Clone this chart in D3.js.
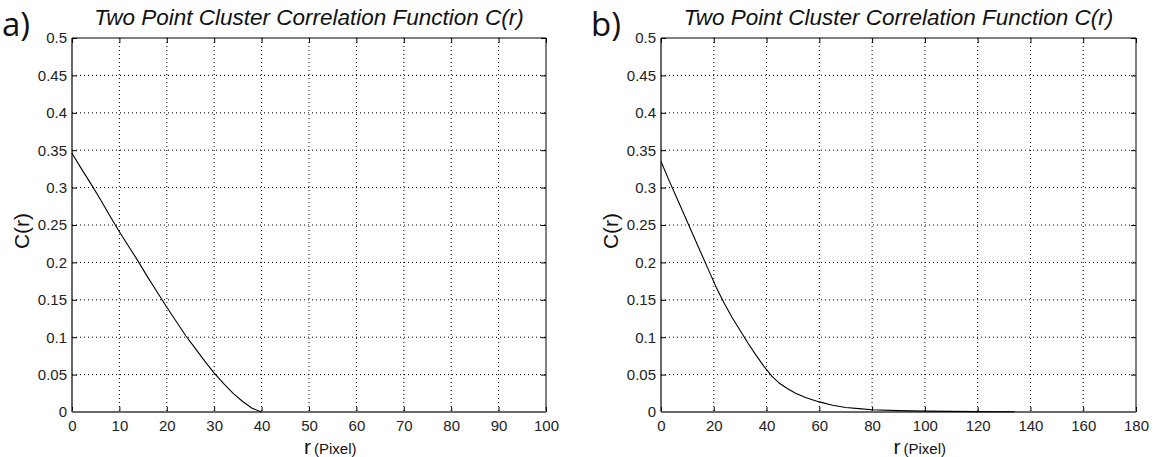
<!DOCTYPE html>
<html>
<head>
<meta charset="utf-8">
<script src="https://cdn.jsdelivr.net/npm/d3@7/dist/d3.min.js"></script>
<style>
  html, body { margin: 0; padding: 0; background: #fff; }
  svg { display: block; }
  text { font-family: "Liberation Sans", Arial, sans-serif; }
</style>
</head>
<body>
<svg id="chart" width="1155" height="457"></svg>
<script>
// Panel a) correlation values
const rA = [0, 2, 4, 6, 8, 10, 12, 14, 16, 18, 20, 22, 24, 26, 28, 30, 32, 34, 36, 38, 40];
const cA = [0.346, 0.325, 0.305, 0.284, 0.262, 0.241, 0.221, 0.201, 0.180, 0.160, 0.140,
            0.121, 0.102, 0.085, 0.068, 0.052, 0.038, 0.025, 0.014, 0.005, 0.0];

// Panel b) correlation values
const rB = [0, 3, 6, 9, 12, 15, 18, 21, 24, 27, 30, 33, 36, 39, 42, 45, 48, 51, 55, 60, 65, 70, 75, 80, 90, 100, 110, 120, 134];
const cB = [0.335, 0.310, 0.286, 0.262, 0.238, 0.214, 0.190, 0.166, 0.145, 0.126, 0.109, 0.092,
            0.076, 0.061, 0.048, 0.038, 0.031, 0.025, 0.019, 0.0135, 0.009, 0.006, 0.0045, 0.003,
            0.0018, 0.0012, 0.0008, 0.0005, 0.0003];

// Axis ticks
const xTicksA = [0, 10, 20, 30, 40, 50, 60, 70, 80, 90, 100];
const xTicksB = [0, 20, 40, 60, 80, 100, 120, 140, 160, 180];
const yTicks = [0, 0.05, 0.1, 0.15, 0.2, 0.25, 0.3, 0.35, 0.4, 0.45, 0.5];
const yTickLabels = ["0", "0.05", "0.1", "0.15", "0.2", "0.25", "0.3", "0.35", "0.4", "0.45", "0.5"];

const titleText = "Two Point Cluster Correlation Function C(r)";

const svg = d3.select("#chart");

function panel(opts) {
  const { left, right, top, bottom, xMax, xTicks, r, c, tag } = opts;
  const x = d3.scaleLinear().domain([0, xMax]).range([left, right]);
  const y = d3.scaleLinear().domain([0, 0.5]).range([bottom, top]);
  const g = svg.append("g");

  // dotted grid
  g.append("g").selectAll("line").data(xTicks.slice(1, -1)).join("line")
    .attr("x1", d => x(d)).attr("x2", d => x(d))
    .attr("y1", top).attr("y2", bottom)
    .attr("stroke", "#000").attr("stroke-width", 1).attr("stroke-dasharray", "1,3");
  g.append("g").selectAll("line").data(yTicks.slice(1, -1)).join("line")
    .attr("x1", left).attr("x2", right)
    .attr("y1", d => y(d)).attr("y2", d => y(d))
    .attr("stroke", "#000").attr("stroke-width", 1).attr("stroke-dasharray", "1,3");

  // axes with inward ticks and labels
  const xAxis = d3.axisBottom(x).tickValues(xTicks).tickSize(-5).tickPadding(8).tickFormat(d3.format("d"));
  const yAxis = d3.axisLeft(y).tickValues(yTicks).tickSize(-5).tickPadding(5)
    .tickFormat((d, i) => yTickLabels[i]);
  const xAxisTop = d3.axisTop(x).tickValues(xTicks).tickSize(-5).tickFormat("");
  const yAxisRight = d3.axisRight(y).tickValues(yTicks).tickSize(-5).tickFormat("");

  const gx = g.append("g").attr("transform", `translate(0,${bottom})`).call(xAxis);
  const gy = g.append("g").attr("transform", `translate(${left},0)`).call(yAxis);
  const gxt = g.append("g").attr("transform", `translate(0,${top})`).call(xAxisTop);
  const gyr = g.append("g").attr("transform", `translate(${right},0)`).call(yAxisRight);
  [gx, gy, gxt, gyr].forEach(a => {
    a.selectAll(".domain").remove();
    a.selectAll(".tick line").attr("stroke", "#000");
    a.selectAll("text").attr("font-size", 15).attr("fill", "#222")
      .style("font-family", "'Liberation Sans', Arial, sans-serif");
  });

  // box
  g.append("line").attr("x1", left).attr("x2", right).attr("y1", top).attr("y2", top)
    .attr("stroke", "#000").attr("stroke-width", 1);
  g.append("line").attr("x1", right).attr("x2", right).attr("y1", top).attr("y2", bottom)
    .attr("stroke", "#000").attr("stroke-width", 1);
  g.append("line").attr("x1", left).attr("x2", left).attr("y1", top).attr("y2", bottom)
    .attr("stroke", "#000").attr("stroke-width", 1.2);
  g.append("line").attr("x1", left).attr("x2", right).attr("y1", bottom).attr("y2", bottom)
    .attr("stroke", "#6a6a6a").attr("stroke-width", 2);

  // curve
  const pts = r.map((v, i) => [v, c[i]]);
  g.append("path").datum(pts)
    .attr("fill", "none").attr("stroke", "#000").attr("stroke-width", 1.1)
    .attr("d", d3.line().x(d => x(d[0])).y(d => y(d[1])));

  // title
  g.append("text").attr("x", (left + right) / 2).attr("y", 25)
    .attr("text-anchor", "middle").attr("font-size", 22.5).attr("font-style", "italic")
    .attr("fill", "#111").text(titleText);

  // panel tag
  g.append("text").attr("x", left - 70).attr("y", 36)
    .attr("font-size", 33).attr("fill", "#111")
    .style("font-family", "'Open Sans', 'Liberation Sans', sans-serif").text(tag);

  // y label
  g.append("text")
    .attr("transform", `translate(${left - 43},${231}) rotate(-90)`)
    .attr("text-anchor", "middle").attr("font-size", 21).attr("fill", "#111").text("C(r)");

  // x label
  const xl = g.append("text").attr("x", (left + right) / 2 - 5).attr("y", 454).attr("fill", "#111");
  xl.append("tspan").attr("font-size", 21).text("r");
  xl.append("tspan").attr("font-size", 15).attr("dx", 3).text("(Pixel)");
}

panel({ left: 72, right: 546, top: 38, bottom: 412, xMax: 100, xTicks: xTicksA, r: rA, c: cA, tag: "a)" });
panel({ left: 661, right: 1136, top: 38, bottom: 412, xMax: 180, xTicks: xTicksB, r: rB, c: cB, tag: "b)" });
</script>
</body>
</html>
